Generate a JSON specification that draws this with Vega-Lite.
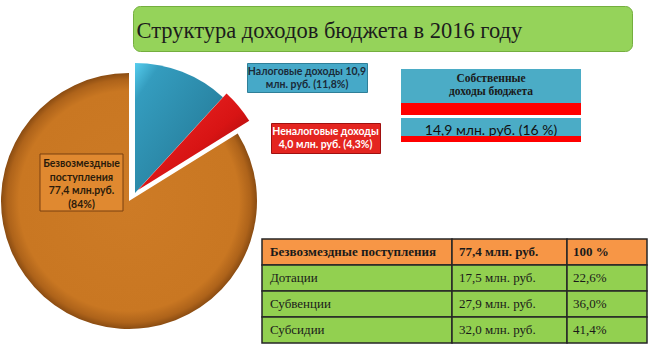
{
  "$schema": "https://vega.github.io/schema/vega-lite/v6.json",
  "padding": {"left": 0, "top": 5, "right": 0, "bottom": 0},
  "background": "#ffffff",
  "bounds": "flush",
  "spacing": 57,
  "config": {"view": {"stroke": null}, "concat": {"spacing": 0}},
  "datasets": {
    "title": [{"text": "Структура доходов бюджета в 2016 году"}],
    "pie": [
      {"cat": "tax", "name": "Налоговые доходы", "value": 10.9, "ord": 1, "label": "Налоговые доходы 10,9\nмлн. руб. (11,8%)"},
      {"cat": "nontax", "name": "Неналоговые доходы", "value": 4.0, "ord": 2, "label": "Неналоговые доходы\n4,0 млн. руб. (4,3%)"},
      {"cat": "grant", "name": "Безвозмездные поступления", "value": 77.4, "ord": 3, "label": "Безвозмездные\nпоступления\n77,4 млн.руб.\n(84%)"}
    ],
    "own": [{"title": "Собственные\nдоходы бюджета", "label": "14,9 млн. руб. (16 %)", "value": 14.9}],
    "table": [
      {"row": 0, "kind": "header", "name": "Безвозмездные поступления", "amount": "77,4 млн. руб.", "pct": "100 %"},
      {"row": 1, "kind": "row", "name": "Дотации", "amount": "17,5 млн. руб.", "pct": "22,6%"},
      {"row": 2, "kind": "row", "name": "Субвенции", "amount": "27,9 млн. руб.", "pct": "36,0%"},
      {"row": 3, "kind": "row", "name": "Субсидии", "amount": "32,0 млн. руб.", "pct": "41,4%"}
    ]
  },
  "vconcat": [
    {
      "hconcat": [
        {"width": 133, "height": 45, "data": {"values": []}, "mark": "point"},
        {
          "width": 499, "height": 45,
          "view": {"fill": "#95D35A", "stroke": "#74AE3E", "strokeWidth": 1, "cornerRadius": 7},
          "data": {"name": "title"},
          "mark": {"type": "text", "font": "Liberation Serif", "fontSize": 22.5, "align": "left", "baseline": "alphabetic", "dx": -246, "dy": 9, "color": "#1c1c1c"},
          "encoding": {"text": {"field": "text", "type": "nominal"}}
        }
      ],
      "spacing": 0, "bounds": "flush"
    },
    {
      "hconcat": [
        {
          "width": 247, "height": 262,
          "data": {"name": "pie"},
          "layer": [
            {
              "mark": {"type": "arc", "radius": 128, "xOffset": 5.5, "yOffset": 7,
                "fill": {"gradient": "radial", "x1": 0.5, "y1": 0.5, "r1": 0, "x2": 0.5, "y2": 0.5, "r2": 0.5,
                  "stops": [{"offset": 0, "color": "#CD7B26"}, {"offset": 0.86, "color": "#C97722"}, {"offset": 0.95, "color": "#AE631A"}, {"offset": 1, "color": "#8A4C12"}]}},
              "encoding": {
                "theta": {"field": "value", "type": "quantitative", "stack": true},
                "detail": {"field": "cat", "type": "nominal"},
                "order": {"field": "ord", "type": "quantitative"},
                "fillOpacity": {"condition": {"test": "datum.cat === 'grant'", "value": 1}, "value": 0}
              }
            },
            {
              "mark": {"type": "arc", "radius": 130, "xOffset": 11.5, "yOffset": -1,
                "fill": {"gradient": "linear", "x1": 0, "y1": 0, "x2": 1, "y2": 1,
                  "stops": [{"offset": 0, "color": "#56CDEE"}, {"offset": 0.15, "color": "#349CBE"}, {"offset": 0.6, "color": "#2A86A5"}, {"offset": 1, "color": "#17404F"}]}},
              "encoding": {
                "theta": {"field": "value", "type": "quantitative", "stack": true},
                "detail": {"field": "cat", "type": "nominal"},
                "order": {"field": "ord", "type": "quantitative"},
                "fillOpacity": {"condition": {"test": "datum.cat === 'tax'", "value": 1}, "value": 0}
              }
            },
            {
              "mark": {"type": "arc", "radius": 131, "xOffset": 14.5, "yOffset": -4,
                "fill": {"gradient": "linear", "x1": 0, "y1": 0, "x2": 1, "y2": 1,
                  "stops": [{"offset": 0, "color": "#F02A2A"}, {"offset": 0.55, "color": "#D81414"}, {"offset": 1, "color": "#7A0606"}]}},
              "encoding": {
                "theta": {"field": "value", "type": "quantitative", "stack": true},
                "detail": {"field": "cat", "type": "nominal"},
                "order": {"field": "ord", "type": "quantitative"},
                "fillOpacity": {"condition": {"test": "datum.cat === 'nontax'", "value": 1}, "value": 0}
              }
            },
            {
              "transform": [{"filter": "datum.cat === 'grant'"}],
              "mark": {"type": "point", "shape": "M-1,-0.687H1V0.687H-1Z", "size": 6889, "filled": true, "fill": "#E08930", "stroke": "#7A4010", "strokeWidth": 1, "opacity": 1, "xOffset": -42, "yOffset": -11.5},
              "encoding": {}
            },
            {
              "transform": [{"filter": "datum.cat === 'grant'"}],
              "mark": {"type": "text", "lineBreak": "\n", "font": "Lato, Open Sans, sans-serif", "fontWeight": "bold", "fontSize": 10.5, "lineHeight": 13.5, "color": "#2b1b0b", "baseline": "middle", "dx": -42, "dy": -30},
              "encoding": {"text": {"field": "label", "type": "nominal"}}
            }
          ]
        },
        {
          "vconcat": [
            {
              "hconcat": [
                {
                  "vconcat": [
                    {
                      "width": 120, "height": 29,
                      "view": {"fill": "#46A9C8", "stroke": "#2F7F98"},
                      "data": {"name": "pie"},
                      "transform": [{"filter": "datum.cat === 'tax'"}],
                      "mark": {"type": "text", "lineBreak": "\n", "font": "Lato, Open Sans, sans-serif", "fontWeight": "bold", "fontSize": 10.5, "lineHeight": 13, "color": "#1A2A38", "baseline": "middle", "dy": -5.5},
                      "encoding": {"text": {"field": "label", "type": "nominal"}}
                    },
                    {
                      "hconcat": [
                        {"width": 24, "height": 30, "data": {"values": []}, "mark": "point"},
                        {
                          "width": 109, "height": 30,
                          "view": {"fill": "#E42520", "stroke": "#A01010"},
                          "data": {"name": "pie"},
                          "transform": [{"filter": "datum.cat === 'nontax'"}],
                          "mark": {"type": "text", "lineBreak": "\n", "font": "Lato, Open Sans, sans-serif", "fontWeight": "bold", "fontSize": 10.5, "lineHeight": 13, "color": "#ffffff", "baseline": "middle", "dy": -6},
                          "encoding": {"text": {"field": "label", "type": "nominal"}}
                        }
                      ],
                      "spacing": 0, "bounds": "flush"
                    }
                  ],
                  "spacing": 31, "bounds": "flush"
                },
                {
                  "vconcat": [
                    {"width": 180, "height": 6, "data": {"values": []}, "mark": "point"},
                    {
                      "width": 180, "height": 34,
                      "view": {"fill": "#4BACC6"},
                      "data": {"name": "own"},
                      "mark": {"type": "text", "lineBreak": "\n", "font": "Liberation Serif", "fontWeight": "bold", "fontSize": 11.5, "lineHeight": 12.5, "color": "#1a1a1a", "baseline": "middle", "dy": -7},
                      "encoding": {"text": {"field": "title", "type": "nominal"}}
                    },
                    {"width": 180, "height": 12, "view": {"fill": "#FF0000"}, "data": {"values": []}, "mark": "point"},
                    {"width": 180, "height": 3, "data": {"values": []}, "mark": "point"},
                    {
                      "width": 180, "height": 18,
                      "view": {"fill": "#4BACC6"},
                      "data": {"name": "own"},
                      "mark": {"type": "text", "font": "Lato, Open Sans, sans-serif", "fontSize": 14, "color": "#111111", "baseline": "middle", "dy": 4},
                      "encoding": {"text": {"field": "label", "type": "nominal"}}
                    },
                    {"width": 180, "height": 6, "view": {"fill": "#FF0000"}, "data": {"values": []}, "mark": "point"}
                  ],
                  "spacing": 0, "bounds": "flush"
                }
              ],
              "spacing": 20
            },
            {
              "hconcat": [
                {"width": 15, "height": 104, "data": {"values": []}, "mark": "point"},
                {
                  "width": 190, "height": 104,
                  "data": {"name": "table"},
                  "encoding": {"y": {"field": "row", "type": "ordinal", "axis": null, "scale": {"paddingInner": 0, "paddingOuter": 0}}},
                  "layer": [
                    {"mark": {"type": "rect", "stroke": "#262626", "strokeWidth": 1.5},
                     "encoding": {"fill": {"field": "kind", "type": "nominal", "scale": {"domain": ["header", "row"], "range": ["#F79646", "#92D050"]}, "legend": null}}},
                    {"transform": [{"filter": "datum.kind === 'header'"}],
                     "mark": {"type": "text", "align": "left", "dx": -87, "font": "Liberation Serif", "fontSize": 13, "fontWeight": "bold", "color": "#1a1a1a"},
                     "encoding": {"text": {"field": "name", "type": "nominal"}}},
                    {"transform": [{"filter": "datum.kind === 'row'"}],
                     "mark": {"type": "text", "align": "left", "dx": -87, "font": "Liberation Serif", "fontSize": 13, "color": "#1a1a1a"},
                     "encoding": {"text": {"field": "name", "type": "nominal"}}}
                  ]
                },
                {
                  "width": 115, "height": 104,
                  "data": {"name": "table"},
                  "encoding": {"y": {"field": "row", "type": "ordinal", "axis": null, "scale": {"paddingInner": 0, "paddingOuter": 0}}},
                  "layer": [
                    {"mark": {"type": "rect", "stroke": "#262626", "strokeWidth": 1.5},
                     "encoding": {"fill": {"field": "kind", "type": "nominal", "scale": {"domain": ["header", "row"], "range": ["#F79646", "#92D050"]}, "legend": null}}},
                    {"transform": [{"filter": "datum.kind === 'header'"}],
                     "mark": {"type": "text", "align": "left", "dx": -50.5, "font": "Liberation Serif", "fontSize": 13, "fontWeight": "bold", "color": "#1a1a1a"},
                     "encoding": {"text": {"field": "amount", "type": "nominal"}}},
                    {"transform": [{"filter": "datum.kind === 'row'"}],
                     "mark": {"type": "text", "align": "left", "dx": -50.5, "font": "Liberation Serif", "fontSize": 13, "color": "#1a1a1a"},
                     "encoding": {"text": {"field": "amount", "type": "nominal"}}}
                  ]
                },
                {
                  "width": 80, "height": 104,
                  "data": {"name": "table"},
                  "encoding": {"y": {"field": "row", "type": "ordinal", "axis": null, "scale": {"paddingInner": 0, "paddingOuter": 0}}},
                  "layer": [
                    {"mark": {"type": "rect", "stroke": "#262626", "strokeWidth": 1.5},
                     "encoding": {"fill": {"field": "kind", "type": "nominal", "scale": {"domain": ["header", "row"], "range": ["#F79646", "#92D050"]}, "legend": null}}},
                    {"transform": [{"filter": "datum.kind === 'header'"}],
                     "mark": {"type": "text", "align": "left", "dx": -34, "font": "Liberation Serif", "fontSize": 13, "fontWeight": "bold", "color": "#1a1a1a"},
                     "encoding": {"text": {"field": "pct", "type": "nominal"}}},
                    {"transform": [{"filter": "datum.kind === 'row'"}],
                     "mark": {"type": "text", "align": "left", "dx": -34, "font": "Liberation Serif", "fontSize": 13, "color": "#1a1a1a"},
                     "encoding": {"text": {"field": "pct", "type": "nominal"}}}
                  ]
                }
              ],
              "spacing": 0, "bounds": "flush"
            }
          ],
          "spacing": 176, "bounds": "flush"
        }
      ],
      "spacing": 0, "bounds": "flush"
    }
  ]
}
